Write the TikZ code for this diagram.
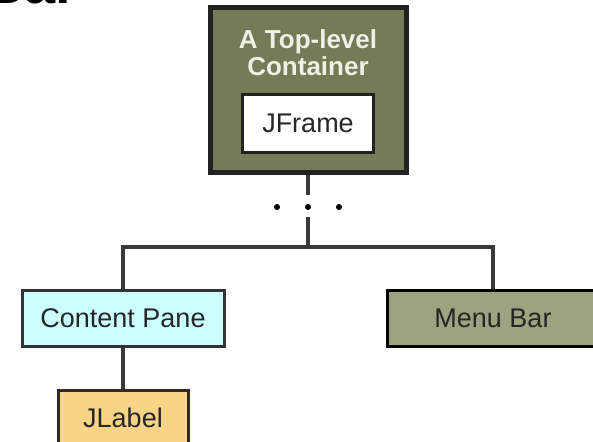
\documentclass[tikz,border=0pt]{standalone}
\usepackage{fontspec}
\setmainfont{Liberation Sans}
\usepackage{xcolor}
\usepackage{tikz}
\usetikzlibrary{positioning,calc}
\definecolor{tlc}{HTML}{737B57}
\definecolor{tlctxt}{HTML}{F0F0E6}
\definecolor{menu}{HTML}{9BA47F}
\definecolor{pane}{HTML}{CCFFFF}
\definecolor{lbl}{HTML}{F8D586}
\definecolor{edge}{HTML}{222222}
\definecolor{wire}{HTML}{3A3A3A}
\tikzset{
  box/.style    ={draw=edge, rectangle, line width=3pt, inner sep=0pt,
                  font=\fontsize{27}{30}\selectfont, text=black!85},
  boxtlc/.style ={box, fill=tlc, line width=5pt},
  boxwhite/.style={box, fill=white},
  boxpane/.style={box, fill=pane, draw=black!80},
  boxmenu/.style={box, fill=menu, draw=black},
  boxlbl/.style ={box, fill=lbl, draw=black!80!lbl},
  wr/.style     ={draw=wire, line width=3.2pt},
  dt/.style     ={fill=black, radius=3pt},
}

\begin{document}
\begin{tikzpicture}[x=1pt,y=1pt]
\useasboundingbox (0,0) rectangle (593,-441);
\clip (0,0) rectangle (593,-441);
\node[anchor=base west, inner sep=0pt, font=\bfseries\fontsize{56}{56}\selectfont]
  (heading) at (-16,-4) {Bar};
% top-level container with its frame
\node[boxtlc, minimum width=196, minimum height=164] (container) at (308,-90) {};
\node[align=center, inner sep=0pt, text=tlctxt,
      font=\bfseries\fontsize{26}{27}\selectfont] (title) at (308,-53)
  {A Top-level\\Container};
\node[boxwhite, minimum width=131, minimum height=57] (jframe) at (308,-123.5) {JFrame};
% children
\node[boxpane, minimum width=202, minimum height=56] (pane) at (123,-318) {Content Pane};
\node[boxmenu, minimum width=212, minimum height=56] (menubar) at (493,-318) {Menu Bar};
\node[boxlbl, minimum width=130, minimum height=56, below=41pt of pane] (jlabel) {JLabel};
\coordinate (dots) at (308,-207);
\coordinate (split) at (308,-247);
\draw[wr] (container.south) -- ($(dots)+(0,12)$);
\draw[wr] ($(dots)+(0,-10)$) -- (split);
\fill[dt] (dots) circle;
\fill[dt] ($(dots)+(-31,0)$) circle;
\fill[dt] ($(dots)+(31,0)$) circle;
\draw[wr] (pane.north) |- (split) -| (menubar.north);
\draw[wr] (pane.south) -- (jlabel.north);
\end{tikzpicture}
\end{document}
